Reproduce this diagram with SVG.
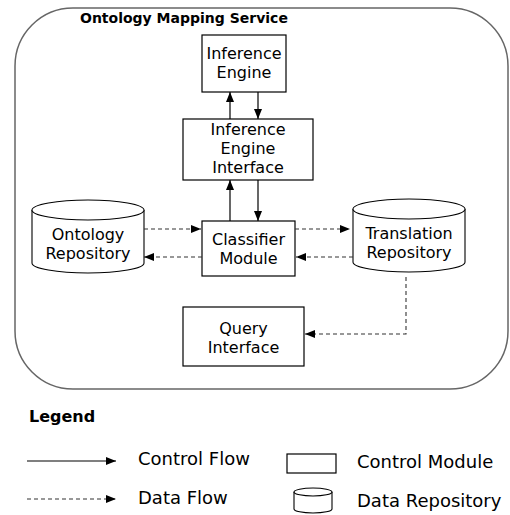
<svg xmlns="http://www.w3.org/2000/svg" width="510" height="515" viewBox="0 0 510 515">
<style>
text{font-family:"DejaVu Sans",sans-serif;fill:#000}
.n{font-size:16px;text-anchor:middle}
.lg{font-size:18px}
.b{font-weight:bold}
.box{fill:#fff;stroke:#000;stroke-width:1.2}
.cyl{fill:#fff;stroke:#000;stroke-width:1.1}
.c{fill:none;stroke:#000;stroke-width:1.2}
.d{fill:none;stroke:#333;stroke-width:1.1;stroke-dasharray:4 3}
</style>
<defs>
<marker id="ah" markerWidth="10" markerHeight="8" refX="10" refY="4" orient="auto" markerUnits="userSpaceOnUse">
<path d="M0,0 L10,4 L0,8 Z" fill="#000"/>
</marker>
</defs>
<rect x="15" y="8" width="493" height="381" rx="58" ry="58" fill="#fff" stroke="#666" stroke-width="1.5"/>
<text x="80" y="23" class="b" font-size="14">Ontology Mapping Service</text>

<g id="inference-engine">
<rect class="box" x="202" y="35" width="84" height="57"/>
<text class="n" x="244" y="59">Inference</text>
<text class="n" x="244" y="78">Engine</text>
</g>
<g id="inference-engine-interface">
<rect class="box" x="183" y="119" width="130" height="61"/>
<text class="n" x="248" y="135">Inference</text>
<text class="n" x="248" y="154">Engine</text>
<text class="n" x="248" y="173">Interface</text>
</g>
<g id="classifier-module">
<rect class="box" x="202" y="221" width="93" height="55"/>
<text class="n" x="248.5" y="245">Classifier</text>
<text class="n" x="248.5" y="264">Module</text>
</g>
<g id="ontology-repository">
<path class="cyl" d="M32,210 A56,10 0 0 1 144,210 L144,263 A56,10 0 0 1 32,263 Z"/>
<path class="cyl" fill="none" d="M32,210 A56,10 0 0 0 144,210"/>
<text class="n" x="88" y="240">Ontology</text>
<text class="n" x="88" y="259">Repository</text>
</g>
<g id="translation-repository">
<path class="cyl" d="M353,209 A56,10 0 0 1 465,209 L465,262 A56,10 0 0 1 353,262 Z"/>
<path class="cyl" fill="none" d="M353,209 A56,10 0 0 0 465,209"/>
<text class="n" x="409" y="239">Translation</text>
<text class="n" x="409" y="258">Repository</text>
</g>
<g id="query-interface">
<rect class="box" x="183" y="307" width="121" height="59"/>
<text class="n" x="243.5" y="334">Query</text>
<text class="n" x="243.5" y="353">Interface</text>
</g>

<g id="connectors">
<line class="c" x1="230" y1="119" x2="230" y2="92" marker-end="url(#ah)"/>
<line class="c" x1="258" y1="92" x2="258" y2="119" marker-end="url(#ah)"/>
<line class="c" x1="230" y1="221" x2="230" y2="180" marker-end="url(#ah)"/>
<line class="c" x1="258" y1="180" x2="258" y2="221" marker-end="url(#ah)"/>
<line class="d" x1="144" y1="229" x2="201" y2="229" marker-end="url(#ah)"/>
<line class="d" x1="202" y1="257" x2="144" y2="257" marker-end="url(#ah)"/>
<line class="d" x1="295" y1="229" x2="350" y2="229" marker-end="url(#ah)"/>
<line class="d" x1="353" y1="257" x2="296" y2="257" marker-end="url(#ah)"/>
<path class="d" d="M406,277 L406,334 L305,334" marker-end="url(#ah)"/>
</g>

<g id="legend">
<text x="29" y="422" class="b" font-size="16">Legend</text>
<line class="c" x1="27" y1="461" x2="116" y2="461" marker-end="url(#ah)"/>
<text class="lg" x="138" y="465">Control Flow</text>
<line class="d" x1="27" y1="499" x2="116" y2="499" marker-end="url(#ah)"/>
<text class="lg" x="138" y="504">Data Flow</text>
<rect class="box" x="287" y="454" width="49" height="19"/>
<text class="lg" x="357" y="468">Control Module</text>
<path class="cyl" d="M294,492 A19,4 0 0 1 332,492 L332,509 A19,4 0 0 1 294,509 Z"/>
<path class="cyl" fill="none" d="M294,492 A19,4 0 0 0 332,492"/>
<text class="lg" x="357" y="507">Data Repository</text>
</g>
</svg>
